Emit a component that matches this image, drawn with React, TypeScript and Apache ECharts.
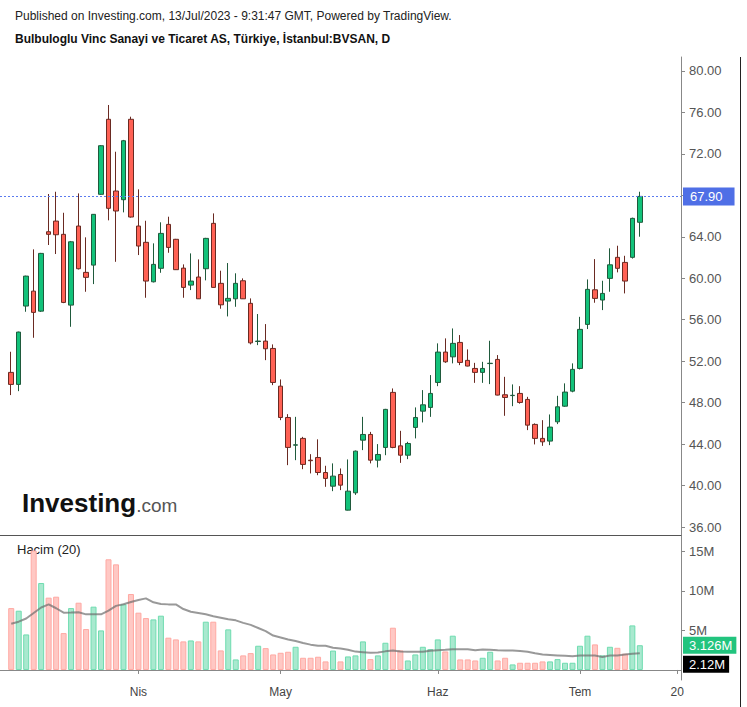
import React, { useEffect, useRef } from 'react';
import * as echarts from 'echarts';

const dates = [
  '2023-03-09','2023-03-10','2023-03-13','2023-03-14','2023-03-15','2023-03-16','2023-03-17','2023-03-20','2023-03-21','2023-03-22',
  '2023-03-23','2023-03-24','2023-03-27','2023-03-28','2023-03-29','2023-03-30','2023-03-31',
  '2023-04-03','2023-04-04','2023-04-05','2023-04-06','2023-04-07','2023-04-10','2023-04-11','2023-04-12','2023-04-13','2023-04-14',
  '2023-04-17','2023-04-18','2023-04-19','2023-04-20','2023-04-24','2023-04-25','2023-04-26','2023-04-27','2023-04-28',
  '2023-05-02','2023-05-03','2023-05-04','2023-05-05','2023-05-08','2023-05-09','2023-05-10','2023-05-11','2023-05-12','2023-05-15',
  '2023-05-16','2023-05-17','2023-05-18','2023-05-22','2023-05-23','2023-05-24','2023-05-25','2023-05-26','2023-05-29','2023-05-30','2023-05-31',
  '2023-06-01','2023-06-02','2023-06-05','2023-06-06','2023-06-07','2023-06-08','2023-06-09','2023-06-12','2023-06-13','2023-06-14',
  '2023-06-15','2023-06-16','2023-06-19','2023-06-20','2023-06-21','2023-06-22','2023-06-23','2023-06-26','2023-06-27',
  '2023-07-03','2023-07-04','2023-07-05','2023-07-06','2023-07-07','2023-07-10','2023-07-11','2023-07-12','2023-07-13',
];
const futureDates = ['2023-07-14', '2023-07-17', '2023-07-18', '2023-07-19', '2023-07-20'];

const opens = [
  50.92, 49.76, 57.32, 58.76, 56.83, 64.49, 65.52, 64.24, 57.41, 65.04,
  60.57, 61.27, 68.10, 75.34, 68.42, 67.58, 75.34, 65.04, 63.47, 59.66,
  60.96, 65.20, 63.76, 60.98, 59.34, 60.12, 60.92, 65.30, 59.51, 57.80,
  58.02, 59.76, 57.58, 53.90, 53.94, 53.23, 49.59, 46.57, 43.90, 44.55,
  42.45, 42.71, 41.26, 39.94, 41.07, 37.63, 39.30, 44.38, 44.93, 42.45,
  43.68, 48.99, 43.83, 42.93, 45.61, 47.18, 47.54, 49.95, 52.88, 52.42,
  53.81, 52.08, 51.30, 50.92, 51.77, 52.17, 48.76, 48.68, 48.89, 48.31,
  45.90, 44.55, 44.29, 46.15, 47.66, 49.11, 51.30, 55.55, 58.89, 57.90,
  59.99, 62.02, 61.53, 62.02, 65.40,
];
const closes = [
  49.76, 54.81, 60.21, 56.71, 62.40, 64.24, 64.20, 57.67, 63.52, 60.92,
  60.09, 66.17, 72.79, 66.75, 66.49, 73.27, 65.91, 63.11, 59.73, 61.34,
  64.33, 62.98, 60.83, 59.12, 59.73, 58.02, 63.85, 59.12, 57.44, 58.06,
  59.51, 58.02, 53.77, 53.94, 53.20, 49.95, 46.57, 43.68, 43.93, 42.04,
  42.40, 41.26, 40.69, 40.91, 40.04, 39.46, 43.32, 44.93, 42.45, 43.00,
  47.35, 43.68, 42.93, 44.06, 46.57, 47.79, 48.89, 52.88, 51.94, 53.72,
  51.88, 51.53, 50.92, 51.30, 51.80, 48.73, 48.50, 48.71, 48.02, 45.83,
  44.55, 44.22, 45.64, 47.60, 49.02, 51.21, 55.07, 58.93, 58.06, 58.54,
  61.30, 60.96, 59.73, 65.78, 67.90,
];
const lows = [
  48.73, 49.11, 56.77, 54.26, 56.75, 63.21, 62.34, 57.60, 55.32, 60.85,
  58.70, 59.44, 68.05, 65.59, 61.59, 66.36, 65.85, 62.24, 58.12, 59.60,
  60.53, 62.46, 60.80, 58.12, 58.86, 58.00, 59.80, 59.10, 57.06, 56.32,
  57.25, 58.00, 53.62, 53.55, 52.10, 49.69, 46.31, 41.97, 42.45, 41.58,
  41.17, 41.00, 39.88, 39.46, 39.56, 37.60, 39.10, 43.42, 42.14, 41.75,
  42.93, 43.60, 42.19, 42.55, 44.55, 46.09, 46.63, 49.59, 51.84, 51.79,
  51.62, 51.50, 49.91, 49.91, 49.79, 48.70, 46.73, 47.66, 47.90, 45.35,
  43.97, 43.83, 43.90, 45.93, 47.60, 49.00, 51.20, 55.10, 57.64, 56.93,
  58.70, 60.57, 58.54, 61.90, 64.01,
];
const highs = [
  52.91, 54.85, 60.25, 62.79, 62.45, 68.13, 68.35, 66.32, 63.60, 68.19,
  63.95, 66.20, 72.85, 76.72, 72.21, 73.35, 75.59, 68.58, 65.55, 63.37,
  65.40, 65.94, 63.80, 61.34, 62.40, 61.82, 63.90, 66.26, 60.73, 61.47,
  60.48, 59.99, 58.06, 56.55, 55.58, 53.62, 50.24, 46.89, 46.63, 44.70,
  43.03, 44.46, 41.91, 42.14, 41.65, 42.52, 43.38, 46.63, 45.18, 44.00,
  47.40, 49.37, 45.28, 44.22, 47.54, 49.21, 50.66, 53.72, 54.20, 55.16,
  54.52, 53.14, 51.84, 51.94, 53.97, 52.59, 50.49, 49.76, 49.59, 48.56,
  46.00, 46.31, 46.86, 48.66, 49.86, 51.79, 56.28, 59.89, 61.85, 59.76,
  62.89, 63.14, 62.17, 65.85, 68.35,
];
// volume in millions
const volumes = [
  7.82, 7.49, 4.49, 15.1, 10.99, 9.14, 9.26, 4.66, 7.82, 8.50,
  5.17, 8.00, 5.00, 13.99, 13.35, 8.29, 9.60, 7.24, 6.56, 6.39,
  6.86, 4.08, 3.86, 3.61, 3.73, 3.61, 6.10, 6.10, 2.47, 5.13,
  1.33, 1.84, 2.13, 3.06, 2.76, 1.96, 2.17, 2.30, 2.93, 1.54,
  1.54, 1.67, 1.08, 2.45, 1.08, 1.71, 1.84, 3.61, 1.37, 1.84,
  3.44, 5.34, 2.47, 1.20, 1.96, 2.93, 2.63, 3.86, 2.34, 4.33,
  1.33, 1.33, 1.20, 1.54, 2.30, 1.20, 1.54, 0.70, 0.91, 0.91,
  0.91, 1.08, 1.08, 1.37, 0.91, 0.91, 3.06, 4.33, 3.23, 1.84,
  2.93, 2.80, 2.05, 5.63, 3.126,
];
// Volume moving average (20), in millions
const volumeMA = [
  5.85, 6.10, 6.50, 7.20, 7.90, 8.30, 7.80, 7.24, 7.25, 7.30,
  7.03, 7.03, 7.03, 7.50, 8.10, 8.30, 8.60, 8.85, 9.05, 8.55,
  8.35, 8.29, 8.28, 7.70, 7.35, 7.20, 7.03, 6.80, 6.60, 6.40,
  6.27, 5.95, 5.70, 5.30, 4.90, 4.35, 4.10, 3.85, 3.65, 3.40,
  3.20, 3.06, 3.05, 2.80, 2.72, 2.55, 2.32, 2.25, 2.18, 2.20,
  2.35, 2.47, 2.32, 2.30, 2.30, 2.30, 2.42, 2.50, 2.55, 2.63,
  2.63, 2.63, 2.50, 2.60, 2.55, 2.48, 2.47, 2.47, 2.40, 2.30,
  2.10, 1.96, 1.90, 1.84, 1.78, 1.72, 1.84, 1.84, 1.84, 1.65,
  1.82, 1.84, 1.95, 2.05, 2.12,
];
const priceTicks = [36, 40, 44, 48, 52, 56, 60, 64, 68, 72, 76, 80];
const volumeTicks = [5, 10, 15];
const monthLabels: Record<string, string> = {
  '2023-04-03': 'Nis',
  '2023-05-02': 'May',
  '2023-06-01': 'Haz',
  '2023-07-03': 'Tem',
  '2023-07-20': '20',
};
const lastPrice = 67.9;
const lastVolume = 3.126;
const lastMA = 2.12;

const FONT = 'Liberation Sans, Arial, sans-serif';

export default function App() {
  const ref = useRef<HTMLDivElement>(null);

  useEffect(() => {
    if (!ref.current) return;
    const chart = echarts.init(ref.current, undefined, { renderer: 'svg' });

    const categories = ['', ...dates, ...futureDates];
    const pad = futureDates.map(() => '-');
    const candleData: any[] = ['-', ...dates.map((_, i) => [opens[i], closes[i], lows[i], highs[i]]), ...pad];
    const volData: any[] = [
      '-',
      ...volumes.map((v, i) => {
        const up = closes[i] >= opens[i];
        return {
          value: v,
          itemStyle: {
            color: up ? '#a9e9cf' : '#ffc8c4',
            borderColor: up ? '#6fdcb0' : '#ffa9a3',
            borderWidth: 1,
          },
        };
      }),
      ...pad,
    ];
    const maData: any[] = ['-', ...volumeMA, ...pad];
    const showIdx = (_i: number, v: string) => !!monthLabels[v];

    const valueLabel = (text: string, bg: string, offsetY: number) => ({
      show: true,
      position: 'end',
      formatter: () => text,
      backgroundColor: bg,
      color: '#fff',
      opacity: 1,
      fontSize: 13,
      fontFamily: FONT,
      lineHeight: 14,
      padding: [2, 4, 1, 6],
      distance: 2,
      offset: [0, offsetY],
    });

    chart.setOption({
      animation: false,
      textStyle: { fontFamily: FONT },
      grid: [
        { left: 0, top: 57, width: 681, height: 478 },
        { left: 0, top: 535, width: 681, height: 145 },
      ],
      xAxis: [
        {
          type: 'category',
          gridIndex: 0,
          data: categories,
          boundaryGap: true,
          axisLine: { show: true, lineStyle: { color: '#555', width: 1 } },
          axisTick: { show: false },
          axisLabel: { show: false },
          splitLine: { show: false },
        },
        {
          type: 'category',
          gridIndex: 1,
          data: categories,
          boundaryGap: true,
          axisLine: { show: true, lineStyle: { color: '#888', width: 1 } },
          axisTick: { show: true, alignWithLabel: true, interval: showIdx, length: 4, lineStyle: { color: '#888' } },
          axisLabel: {
            interval: showIdx,
            formatter: (v: string) => monthLabels[v] || '',
            color: '#444',
            fontSize: 12,
            margin: 6,
            fontFamily: FONT,
          },
          splitLine: { show: false },
        },
      ],
      yAxis: [
        {
          type: 'value',
          gridIndex: 0,
          position: 'right',
          min: 35.23,
          max: 81.35,
          axisLine: { show: true, lineStyle: { color: '#888' } },
          axisTick: { show: true, length: 4, customValues: priceTicks, lineStyle: { color: '#888' } },
          axisLabel: {
            customValues: priceTicks,
            formatter: (v: number) => v.toFixed(2),
            color: '#555',
            fontSize: 13,
            margin: 8,
            fontFamily: FONT,
          },
          splitLine: { show: false },
        },
        {
          type: 'value',
          gridIndex: 1,
          position: 'right',
          min: -1.27,
          max: 17.06,
          axisLine: { show: true, lineStyle: { color: '#888' } },
          axisTick: { show: true, length: 4, customValues: volumeTicks, lineStyle: { color: '#888' } },
          axisLabel: {
            customValues: volumeTicks,
            formatter: (v: number) => v + 'M',
            color: '#555',
            fontSize: 13,
            margin: 8,
            fontFamily: FONT,
          },
          splitLine: { show: false },
        },
      ],
      series: [
        {
          type: 'candlestick',
          xAxisIndex: 0,
          yAxisIndex: 0,
          data: candleData,
          barWidth: 5,
          itemStyle: {
            color: '#12c27a',
            color0: '#ff6154',
            borderColor: '#1f5a3c',
            borderColor0: '#6a2a22',
            borderWidth: 1,
          },
          markLine: {
            symbol: 'none',
            silent: true,
            data: [{ yAxis: lastPrice }],
            lineStyle: { color: '#5b7bef', type: [2, 2], width: 1 },
            label: {
              show: true,
              position: 'end',
              formatter: () => lastPrice.toFixed(2),
              backgroundColor: '#4f6fe6',
              color: '#fff',
              fontSize: 13,
              fontFamily: FONT,
              lineHeight: 14,
              padding: [3, 12, 1, 7],
              distance: 2,
            },
          },
        },
        {
          type: 'bar',
          xAxisIndex: 1,
          yAxisIndex: 1,
          data: volData,
          barWidth: 6,
          markLine: {
            symbol: 'none',
            silent: true,
            lineStyle: { color: 'rgba(0,0,0,0)', width: 0 },
            data: [
              { yAxis: lastVolume, label: valueLabel(lastVolume + 'M', '#22c47e', 0) },
              { yAxis: lastMA, label: valueLabel(lastMA + 'M', '#000000', 11) },
            ],
          },
        },
        {
          type: 'line',
          xAxisIndex: 1,
          yAxisIndex: 1,
          data: maData,
          symbol: 'none',
          lineStyle: { color: 'rgba(110,110,110,0.7)', width: 2 },
          z: 5,
        },
      ],
      graphic: [
        {
          type: 'text',
          left: 15,
          top: 10,
          style: {
            text: 'Published on Investing.com, 13/Jul/2023 - 9:31:47 GMT, Powered by TradingView.',
            fill: '#222',
            font: '12px ' + FONT,
          },
        },
        {
          type: 'text',
          left: 15,
          top: 33,
          style: {
            text: 'Bulbuloglu Vinc Sanayi ve Ticaret AS, Türkiye, İstanbul:BVSAN, D',
            fill: '#111',
            font: 'bold 12px ' + FONT,
          },
        },
        {
          type: 'text',
          left: 17,
          top: 543,
          style: { text: 'Hacim (20)', fill: '#222', font: '13px ' + FONT },
        },
        {
          type: 'text',
          left: 22,
          top: 490,
          style: {
            text: '{a|Investing}{b|.com}',
            rich: {
              a: { font: 'bold 26px ' + FONT, fill: '#111', verticalAlign: 'bottom' },
              b: { font: '19px ' + FONT, fill: '#555', verticalAlign: 'bottom', padding: [0, 0, 1, 0] },
            },
          },
        },
        {
          type: 'line',
          shape: { x1: 740.5, y1: 57, x2: 740.5, y2: 707 },
          style: { stroke: '#222', lineWidth: 1 },
        },
      ],
    });

    return () => chart.dispose();
  }, []);

  return <div ref={ref} style={{ position: 'absolute', left: 0, top: 0, width: 747, height: 707 }} />;
}
